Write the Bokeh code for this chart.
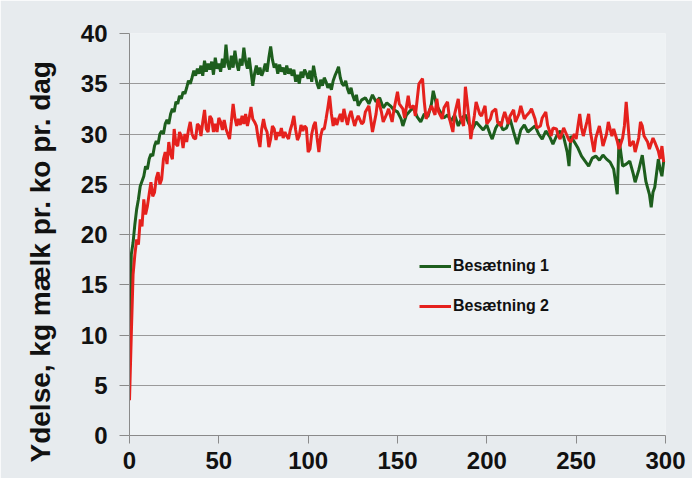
import math
from bokeh.plotting import figure
from bokeh.models import Range1d, FixedTicker, Legend, LegendItem, Title
from bokeh.embed import file_html
from bokeh.resources import INLINE

# ---- data ----
days_1 = list(range(0, 129)) + [130, 132, 134, 136, 138, 140, 142, 144, 146, 148, 150, 152, 153, 155, 157, 159,
          161, 163, 165, 167, 169, 170, 172, 174, 176, 178, 180, 182, 184, 186, 188, 190, 192, 194, 196, 198,
          200, 202, 203, 205, 207, 209, 211, 213, 215, 217, 219, 221, 223, 225, 227, 229, 231, 233, 235, 237,
          239, 241, 243, 245, 246, 247, 249, 251, 253, 255, 257, 259, 261, 263, 265, 267, 269, 271, 273, 274,
          276, 278, 280, 282, 283, 285, 287, 289, 291, 292, 293, 294, 296, 297, 298, 299]
yield_1 = [6.5, 18.0, 19.2, 21.0, 22.5, 23.5, 24.8, 25.3, 25.8, 26.8, 26.5, 27.5, 28.0, 27.8, 28.8, 29.3,
           29.0, 30.0, 30.3, 30.0, 31.0, 31.4, 31.0, 32.0, 32.5, 32.2, 33.2, 33.0, 33.8, 33.5, 34.2, 34.0,
           34.6, 35.3, 35.0, 35.6, 36.3, 35.8, 36.5, 36.0, 36.8, 35.8, 37.3, 36.2, 37.0, 36.4, 37.2, 35.9,
           37.6, 36.5, 37.0, 36.2, 37.5, 36.6, 38.9, 37.0, 36.4, 37.8, 36.6, 38.3, 37.0, 36.3, 37.5, 36.8,
           38.6, 37.2, 36.5, 37.6, 36.2, 34.8, 36.0, 36.8, 35.9, 36.6, 35.8, 36.3, 37.0, 36.2, 37.6, 38.7,
           37.4, 36.6, 37.0, 36.0, 36.9, 36.2, 36.6, 35.9, 36.8, 36.0, 36.5, 35.8, 36.4, 35.2, 35.9, 35.0,
           36.2, 35.6, 36.4, 36.0, 35.5, 36.3, 35.2, 36.8, 35.8, 35.0, 34.5, 35.4, 34.8, 35.6, 35.2, 34.6,
           35.0, 34.4, 35.3, 35.8, 36.2, 36.7, 35.6, 35.0, 34.8, 35.3, 34.5, 34.0, 34.6, 33.8, 33.3, 33.9,
           32.8,
           33.4, 33.6, 33.0, 33.9, 33.2, 33.6, 32.6, 33.1, 32.8, 32.4, 32.2, 31.5, 30.8, 31.9, 32.3, 32.6,
           31.7, 31.2, 32.0, 31.7, 33.0, 34.3, 32.8, 32.2, 31.6, 31.9, 31.3, 31.9, 30.8, 31.6, 31.9, 31.0,
           30.5, 31.2, 30.8, 30.4, 30.9, 29.9, 29.5, 30.6, 31.2, 30.4, 30.6, 31.5, 30.2, 29.0, 30.4, 30.9,
           30.2, 30.5, 30.8, 30.0, 29.5, 30.3, 29.8, 29.0, 29.8, 30.3, 29.7, 28.2, 26.8, 29.8, 29.2, 28.6,
           27.8, 27.3, 26.8, 27.6, 27.8, 27.4, 27.9, 27.5, 27.2, 26.5, 24.0, 29.5, 26.8, 27.0, 27.3, 26.0,
           25.2, 26.4, 27.9, 25.3, 24.0, 22.7, 24.2, 24.7, 27.5, 26.5, 25.8, 27.3]

days_2 = list(range(0, 129)) + [130, 131, 132, 134, 135, 136, 138, 139, 141, 142, 144, 145, 147, 148, 150, 151,
          153, 154, 156, 157, 159, 160, 162, 164, 165, 166, 168, 169, 171, 172, 173, 175, 176, 178, 179, 181,
          182, 184, 185, 187, 188, 190, 191, 193, 194, 196, 197, 199, 200, 202, 203, 205, 206, 208, 209, 210,
          212, 213, 215, 216, 218, 219, 221, 222, 224, 225, 227, 228, 230, 231, 233, 234, 236, 237, 239, 240,
          241, 243, 244, 246, 247, 249, 250, 251, 252, 253, 254, 256, 257, 258, 260, 261, 263, 264, 265, 267,
          268, 270, 271, 273, 274, 276, 277, 278, 279, 280, 282, 283, 285, 286, 287, 288, 290, 291, 293, 294,
          296, 297, 298, 299]
yield_2 = [3.5, 10.0, 16.0, 18.0, 19.5, 19.0, 21.5, 20.8, 23.5, 22.0, 22.8, 24.0, 25.2, 23.8, 24.2, 25.6,
           26.2, 25.0, 25.5, 27.5, 28.2, 27.0, 29.2, 28.0, 27.5, 30.5, 29.0, 28.8, 30.2, 29.8, 28.6, 30.0,
           29.2, 30.4, 31.2, 30.0, 29.6, 29.5, 31.0, 30.8, 29.8, 31.2, 32.4, 30.5, 30.2, 31.8, 31.5, 30.2,
           31.0, 30.2, 31.6, 31.2, 30.4, 31.4, 30.5, 30.0, 29.5, 31.2, 33.0, 31.6, 30.8, 31.5, 30.9, 31.8,
           31.0, 32.0, 30.8, 31.6, 32.7, 31.5, 31.2, 30.8, 29.6, 28.7, 30.5, 31.5, 30.6, 30.2, 28.7, 29.5,
           30.8, 30.5, 29.4, 30.2, 29.8, 30.6, 29.6, 30.2, 29.8, 29.5, 30.4, 31.0, 31.8, 30.4, 29.4, 29.8,
           30.9, 30.3, 30.8, 30.6, 28.2, 28.5, 30.0, 30.8, 31.2, 29.6, 28.2, 29.8, 30.5, 30.5, 31.5, 32.6,
           33.8, 32.0, 30.8, 31.6, 30.9, 31.5, 32.0, 31.2, 32.5, 31.6, 30.9, 31.8, 32.3, 31.5, 30.8, 31.4,
           31.8,
           31.0, 31.2, 32.2, 32.8, 31.5, 30.2, 32.0, 33.5, 32.2, 31.2, 32.0, 32.5, 31.2, 32.4, 34.2, 33.0,
           32.5, 31.6, 33.8, 32.6, 32.8, 31.8, 35.0, 35.5, 33.2, 31.5, 32.4, 32.8, 31.9, 33.5, 32.2, 31.5,
           32.6, 33.2, 31.6, 30.2, 32.0, 33.5, 31.8, 30.8, 34.7, 31.6, 29.5, 31.8, 33.2, 32.0, 31.8, 32.8,
           31.0, 31.5, 32.2, 32.5, 31.2, 30.8, 31.6, 32.2, 31.0, 31.8, 32.4, 31.2, 32.0, 32.8, 31.5, 31.8,
           32.2, 32.5, 31.5, 30.6, 30.8, 31.6, 32.2, 30.9, 29.8, 30.6, 30.5, 29.8, 29.5, 30.6, 30.2, 29.4,
           29.2, 30.0, 29.5, 30.8, 32.0, 30.6, 29.8, 31.2, 32.0, 30.2, 28.2, 29.6, 30.8, 29.9, 28.8, 30.0,
           31.2, 29.8, 30.5, 29.3, 28.5, 29.6, 30.8, 33.2, 31.0, 28.8, 29.3, 28.2, 29.6, 31.2, 30.8, 29.8,
           29.2, 28.5, 29.6, 29.2, 28.3, 27.5, 28.8, 27.2]

series_names = ["Besætning 1", "Besætning 2"]
x_ticks = [0, 50, 100, 150, 200, 250, 300]
y_ticks = [0, 5, 10, 15, 20, 25, 30, 35, 40]
y_title = "Ydelse, kg mælk pr. ko pr. dag"

FONT = "Liberation Sans"

p = figure(width=692, height=478, output_backend="svg", toolbar_location=None,
           x_range=Range1d(0, 300), y_range=Range1d(0, 40),
           min_border_left=128, min_border_right=27, min_border_top=33, min_border_bottom=43)

p.background_fill_color = "#eef2f4"
p.border_fill_color = "#e7ebee"
p.outline_line_color = None

p.xgrid.visible = False
p.ygrid.ticker = FixedTicker(ticks=y_ticks)
p.ygrid.grid_line_color = "#9a9a9a"
p.ygrid.grid_line_width = 1

for ax, ticks in ((p.xaxis, x_ticks), (p.yaxis, y_ticks)):
    ax.ticker = FixedTicker(ticks=ticks)
    ax.axis_line_color = "#8a8a8a"
    ax.major_tick_line_color = "#8a8a8a"
    ax.minor_tick_line_color = None
    ax.major_tick_in = 0
    ax.major_label_text_font = FONT
    ax.major_label_text_font_size = "24px"
    ax.major_label_text_font_style = "bold"
    ax.major_label_text_color = "#111111"

p.xaxis.major_tick_out = 8
p.xaxis.major_label_standoff = 8
p.yaxis.major_tick_out = 10
p.yaxis.major_label_standoff = 12

g = p.line(days_1, yield_1, line_color="#1d5e1d", line_width=3)
r = p.line(days_2, yield_2, line_color="#e5211d", line_width=3)

legend = Legend(items=[LegendItem(label=series_names[0], renderers=[g]),
                       LegendItem(label=series_names[1], renderers=[r])],
                location=(290, 119), glyph_width=32, glyph_height=20, label_height=20,
                spacing=20, padding=0, margin=0, label_standoff=2,
                background_fill_alpha=0, border_line_color=None,
                label_text_font=FONT, label_text_font_size="16px",
                label_text_font_style="bold", label_text_color="#111111")
p.add_layout(legend)

ytitle = Title(text=y_title, align="left", offset=-27, standoff=44,
               text_font=FONT, text_font_size="28px", text_font_style="bold",
               text_color="#111111")
p.add_layout(ytitle, "left")

open("out.html", "w").write(file_html(p, INLINE))
